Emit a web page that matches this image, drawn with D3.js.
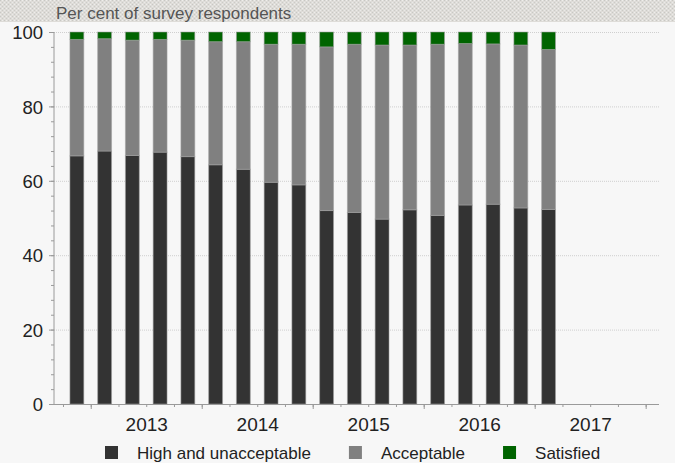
<!DOCTYPE html>
<html>
<head>
<meta charset="utf-8">
<script src="https://cdn.jsdelivr.net/npm/d3@7"></script>
<style>
  html, body { margin: 0; padding: 0; background: #f7f7f7; }
  svg { display: block; font-family: "Liberation Sans", Arial, sans-serif; }
</style>
</head>
<body>
<svg id="chart" width="675" height="463"></svg>
<script>
// ---- Data ----
const quarters = ["2012 Q4","2013 Q1","2013 Q2","2013 Q3","2013 Q4","2014 Q1","2014 Q2","2014 Q3","2014 Q4",
                  "2015 Q1","2015 Q2","2015 Q3","2015 Q4","2016 Q1","2016 Q2","2016 Q3","2016 Q4","2017 Q1"];
const highUnacceptable = [66.7, 68.0, 66.8, 67.7, 66.5, 64.3, 63.1, 59.6, 58.9, 52.0, 51.5, 49.7, 52.2, 50.7, 53.5, 53.7, 52.7, 52.3];
const acceptable       = [31.3, 30.2, 31.0, 30.3, 31.3, 33.1, 34.3, 37.1, 37.8, 44.0, 45.2, 46.8, 44.3, 46.0, 43.4, 43.1, 43.8, 43.0];
const satisfied        = [ 2.0,  1.8,  2.2,  2.0,  2.2,  2.6,  2.6,  3.3,  3.3,  4.0,  3.3,  3.5,  3.5,  3.3,  3.1,  3.2,  3.5,  4.7];
const seriesNames = ["High and unacceptable", "Acceptable", "Satisfied"];
const seriesColors = ["#333333", "#808080", "#006400"];
const yearLabels = [2013, 2014, 2015, 2016, 2017];
const yTicks = [0, 20, 40, 60, 80, 100];
const title = "Per cent of survey respondents";

// ---- Layout ----
const W = 675, H = 463;
const plot = { left: 54, right: 659, top: 32, bottom: 404 };
const svg = d3.select("#chart");

// header pattern band
const defs = svg.append("defs");
const pat = defs.append("pattern").attr("id", "hdr").attr("width", 4).attr("height", 4)
  .attr("patternUnits", "userSpaceOnUse");
pat.append("rect").attr("width", 4).attr("height", 4).attr("fill", "#dedcd8");
pat.append("rect").attr("x", 0).attr("y", 0).attr("width", 1).attr("height", 1).attr("fill", "#c8c8c4");
pat.append("rect").attr("x", 2).attr("y", 2).attr("width", 1).attr("height", 1).attr("fill", "#cbcbc7");
pat.append("rect").attr("x", 2).attr("y", 0).attr("width", 1).attr("height", 1).attr("fill", "#eeeeec");
pat.append("rect").attr("x", 0).attr("y", 2).attr("width", 1).attr("height", 1).attr("fill", "#eaeae8");
svg.append("rect").attr("x", 0).attr("y", 0).attr("width", W).attr("height", 22).attr("fill", "url(#hdr)");
svg.append("text").attr("x", 56).attr("y", 19).attr("font-size", 17).attr("fill", "#555555").text(title);

// ---- Scales ----
const qToNum = q => { const [y, qq] = q.split(" Q"); return +y + (+qq - 1) / 4 + 0.125; };
const x = d3.scaleLinear().domain([2012.669, 2018.12]).range([plot.left, plot.right]);
const y = d3.scaleLinear().domain([0, 100]).range([plot.bottom, plot.top]);
const qStep = x(2013.25) - x(2013);
const barW = qStep * 0.5;

// gridlines
svg.append("g").selectAll("line").data(yTicks.filter(d => d > 0)).join("line")
  .attr("x1", plot.left).attr("x2", plot.right)
  .attr("y1", d => y(d) + 0.5).attr("y2", d => y(d) + 0.5)
  .attr("stroke", "#cfcfcf").attr("stroke-dasharray", "1,1");

// stacked bars
const rows = quarters.map((q, i) => ({ q, v: [highUnacceptable[i], acceptable[i], satisfied[i]] }));
const stack = d3.stack().keys([0, 1, 2]).value((d, k) => d.v[k]);
const layers = stack(rows);
svg.append("g").selectAll("g").data(layers).join("g")
  .attr("fill", (d, i) => seriesColors[i])
  .selectAll("rect").data(d => d).join("rect")
  .attr("x", d => x(qToNum(d.data.q)) - barW / 2)
  .attr("width", barW)
  .attr("y", d => y(d[1]))
  .attr("height", d => y(d[0]) - y(d[1]))
  .attr("stroke", "rgba(160,160,160,0.55)").attr("stroke-width", 1);

// ---- Axes ----
const axisColor = "#9a9a9a";
// y axis
const yAxisMinor = d3.axisLeft(y).tickValues(d3.range(0, 101, 4)).tickSize(3).tickFormat("");
const gyMinor = svg.append("g").attr("transform", `translate(${plot.left},0)`).call(yAxisMinor);
const yAxis = d3.axisLeft(y).tickValues(yTicks).tickSize(5).tickPadding(6);
const gy = svg.append("g").attr("transform", `translate(${plot.left},0)`).call(yAxis);
gy.selectAll("text").attr("font-size", 18.5).attr("fill", "#222").attr("font-family", "Liberation Sans, Arial, sans-serif").attr("dy", "0.36em");
[gy, gyMinor].forEach(g => { g.select(".domain").attr("stroke", axisColor); g.selectAll("line").attr("stroke", axisColor); });
gyMinor.select(".domain").remove();
gy.select(".domain").attr("d", `M-0.5,${plot.top}V${plot.bottom}`).attr("transform", "translate(0.5,0)");

// x axis
const minorVals = d3.range(2012.75, 2018.01, 0.25);
const xMinor = d3.axisBottom(x).tickValues(minorVals).tickSize(3).tickFormat("");
const gxMinor = svg.append("g").attr("transform", `translate(0,${plot.bottom})`).call(xMinor);
const xMajor = d3.axisBottom(x).tickValues(d3.range(2013, 2019)).tickSize(5).tickFormat("");
const gxMajor = svg.append("g").attr("transform", `translate(0,${plot.bottom})`).call(xMajor);
const xLabels = d3.axisBottom(x).tickValues(yearLabels.map(d => d + 0.5)).tickSize(0).tickPadding(14)
  .tickFormat(d => String(Math.floor(d)));
const gxLabels = svg.append("g").attr("transform", `translate(0,${plot.bottom})`).call(xLabels);
gxLabels.selectAll("text").attr("font-size", 19).attr("fill", "#222").attr("font-family", "Liberation Sans, Arial, sans-serif");
gxLabels.select(".domain").remove();
gxMinor.select(".domain").remove();
gxMajor.select(".domain").attr("stroke", axisColor).attr("d", `M${plot.left - 2},0.5H${plot.right}`);
[gxMinor, gxMajor].forEach(g => g.selectAll("line").attr("stroke", axisColor));

// ---- Legend ----
const legend = svg.append("g").attr("font-size", 17).attr("fill", "#222");
let lx = 105;
seriesNames.forEach((name, i) => {
  legend.append("rect").attr("x", lx).attr("y", 446).attr("width", 13).attr("height", 13)
    .attr("fill", seriesColors[i]);
  const t = legend.append("text").attr("x", lx + 32).attr("y", 459).text(name);
  const w = t.node().getComputedTextLength();
  lx = lx + 32 + w + 38;
});
</script>
</body>
</html>
